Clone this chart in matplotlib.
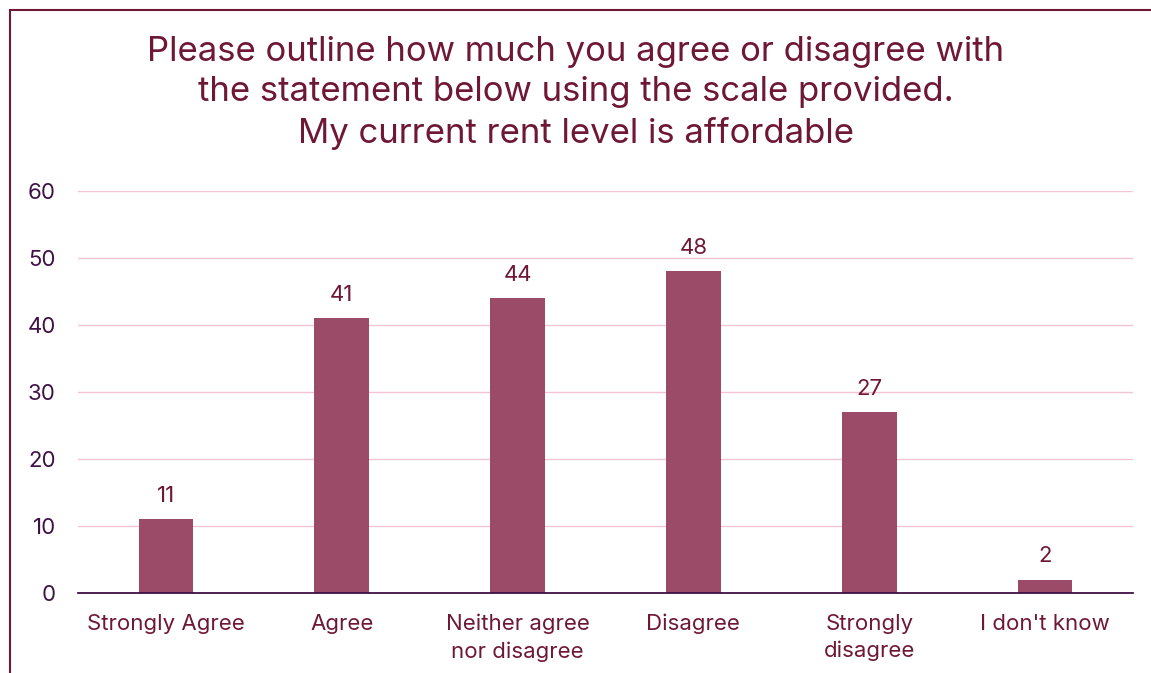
import matplotlib
matplotlib.use('Agg')
import matplotlib.pyplot as plt
from matplotlib.patches import Rectangle

categories = ['Strongly Agree', 'Agree', 'Neither agree\nnor disagree', 'Disagree',
              'Strongly\ndisagree', "I don't know"]
values = [11, 41, 44, 48, 27, 2]
y_ticks = [0, 10, 20, 30, 40, 50, 60]
title = ('Please outline how much you agree or disagree with\n'
         'the statement below using the scale provided.\n'
         'My current rent level is affordable')

maroon = '#6f1836'
bar_color = '#9b4a67'
grid_color = '#f2c4d4'
tick_color = '#3f1146'


def main():
    plt.rcParams['font.family'] = ['Inter', 'DejaVu Sans']

    fig = plt.figure(figsize=(11.51, 6.73), dpi=100)
    fig.patch.set_facecolor('white')

    # frame line on the left and top edge
    fig.add_artist(Rectangle((10 / 1151, -0.1), 1.2, 1 - 10 / 673 + 0.1,
                             transform=fig.transFigure, fill=False,
                             edgecolor=maroon, linewidth=1.5))

    ax = fig.add_axes([78 / 1151, 1 - 593 / 673, (1133 - 78) / 1151, (593 - 191) / 673])
    x = range(len(categories))
    bars = ax.bar(x, values, width=0.31, color=bar_color, zorder=3)

    for b, v in zip(bars, values):
        ax.text(b.get_x() + b.get_width() / 2, v + 2.0, str(v),
                ha='center', va='bottom', fontsize=16, color=maroon)

    ax.set_xlim(-0.5, len(categories) - 0.5)
    ax.set_ylim(0, 60)
    ax.set_yticks(y_ticks)
    ax.set_xticks(list(x))
    ax.set_xticklabels(categories, fontsize=16, color=maroon, linespacing=1.42, va='top')
    ax.tick_params(axis='y', labelsize=16, labelcolor=tick_color, length=0, pad=16)
    ax.tick_params(axis='x', length=0, pad=15)
    ax.yaxis.grid(True, color=grid_color, linewidth=1, zorder=0)

    for side in ['left', 'right', 'top']:
        ax.spines[side].set_visible(False)
    ax.spines['bottom'].set_color(tick_color)
    ax.spines['bottom'].set_linewidth(1.3)
    ax.spines['bottom'].set_zorder(4)

    fig.text(0.5, 1 - 93 / 673, title, ha='center', va='center',
             fontsize=25, color=maroon, linespacing=1.32)

    fig.savefig('out.png', dpi=100)


if __name__ == '__main__':
    main()
